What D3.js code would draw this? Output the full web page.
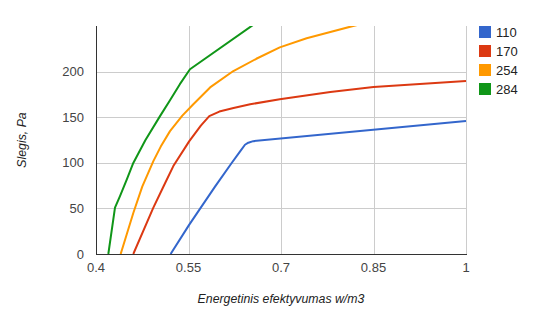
<!DOCTYPE html>
<html><head><meta charset="utf-8">
<script src="https://cdn.jsdelivr.net/npm/d3@7"></script>
<style>body{margin:0;background:#fff}svg{display:block;font-family:Arial,"Liberation Sans",sans-serif}</style>
</head><body>
<svg id="c" width="535" height="326"></svg>
<script>
const seriesNames = ["110","170","254","284"];
const colors = ["#3366cc","#dc3912","#ff9900","#109618"];
const s110 = [[0.521,0],[0.551,32],[0.593,74],[0.62,100],[0.634,113],[0.6416,120],[0.647,122.3],[0.655,124],[1.0,146]];
const s170 = [[0.4605,0],[0.493,51],[0.51,75],[0.5254,96.6],[0.5513,124],[0.57,141],[0.5837,151.5],[0.6,156.5],[0.623,160.5],[0.65,164.5],[0.698,170],[0.78,178],[0.85,183.5],[1.0,190]];
const s254 = [[0.44,0],[0.45,22],[0.4605,45],[0.475,74],[0.493,102],[0.505,118],[0.52,135],[0.54,152],[0.5578,164.6],[0.585,183],[0.6227,201],[0.66,214.5],[0.698,227],[0.7416,237],[0.78,244],[0.817,250.6],[0.86,257]];
const s284 = [[0.42,0],[0.4308,51],[0.4389,63.7],[0.45,82],[0.4605,100],[0.48,125],[0.5038,151.5],[0.52,169],[0.536,186.6],[0.5524,203],[0.6525,250.6],[0.7,273]];
const seriesData = [s110,s170,s254,s284];
const xTicks = [0.4,0.55,0.7,0.85,1];
const yTicks = [0,50,100,150,200];

const svg = d3.select("#c");
const L=96,R=466,T=26,B=254;
const x = d3.scaleLinear().domain([0.4,1]).range([L,R]);
const y = d3.scaleLinear().domain([0,250.5]).range([B,T]);

// gridlines
svg.append("g").selectAll("line").data(yTicks.filter(d=>d>0)).join("line")
  .attr("x1",L).attr("x2",R).attr("y1",d=>Math.round(y(d))+0.5).attr("y2",d=>Math.round(y(d))+0.5)
  .attr("stroke","#cccccc");
svg.append("g").selectAll("line").data(xTicks.filter(d=>d>0.4)).join("line")
  .attr("y1",T).attr("y2",B).attr("x1",d=>Math.round(x(d))+0.5).attr("x2",d=>Math.round(x(d))+0.5)
  .attr("stroke","#cccccc");

// lines
svg.append("defs").append("clipPath").attr("id","clip").append("rect")
  .attr("x",L).attr("y",T).attr("width",R-L+2).attr("height",B-T);
const line = d3.line().x(d=>x(d[0])).y(d=>y(d[1])).curve(d3.curveLinear);
svg.append("g").attr("clip-path","url(#clip)").selectAll("path").data(seriesData).join("path")
  .attr("d",line).attr("fill","none").attr("stroke",(d,i)=>colors[i]).attr("stroke-width",2)
  .attr("stroke-linejoin","round");

// axes
svg.append("line").attr("x1",L+0.5).attr("x2",L+0.5).attr("y1",T).attr("y2",B+1).attr("stroke","#333");
svg.append("line").attr("x1",L).attr("x2",R+1).attr("y1",B+0.5).attr("y2",B+0.5).attr("stroke","#333");

// tick labels
svg.append("g").selectAll("text").data(yTicks).join("text")
  .attr("x",84).attr("y",d=>y(d)+4.5).attr("text-anchor","end")
  .attr("font-size",13).attr("fill","#444").text(d=>d);
svg.append("g").selectAll("text").data(xTicks).join("text")
  .attr("x",d=>x(d)).attr("y",272).attr("text-anchor","middle")
  .attr("font-size",13).attr("fill","#444").text(d=>d);

// axis titles
svg.append("text").attr("x",281).attr("y",303).attr("text-anchor","middle")
  .attr("font-size",12.3).attr("font-style","italic").attr("fill","#222").text("Energetinis efektyvumas w/m3");
svg.append("text").attr("transform","translate(26,140) rotate(-90)").attr("text-anchor","middle")
  .attr("font-size",12.3).attr("font-style","italic").attr("fill","#222").text("Slegis, Pa");

// legend
const lg = svg.append("g").selectAll("g").data(seriesNames).join("g")
  .attr("transform",(d,i)=>`translate(479,${26+i*19})`);
lg.append("rect").attr("width",12).attr("height",12).attr("fill",(d,i)=>colors[i]);
lg.append("text").attr("x",17).attr("y",10.5).attr("font-size",13).attr("fill","#222").text(d=>d);
</script>
</body></html>
